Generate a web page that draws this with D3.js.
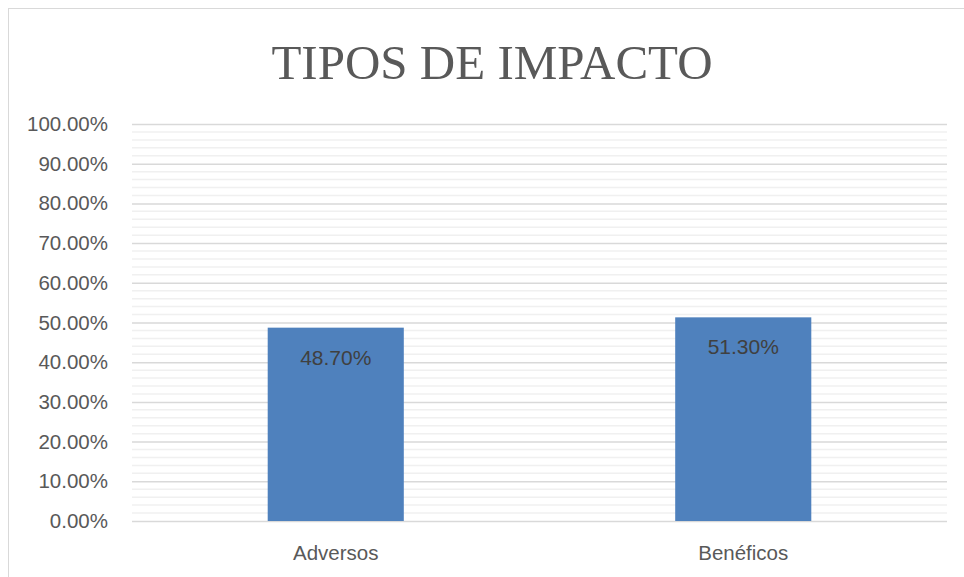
<!DOCTYPE html>
<html>
<head>
<meta charset="utf-8">
<script src="https://cdn.jsdelivr.net/npm/d3@7"></script>
<style>
  body { margin: 0; background: #fff; }
  svg { display: block; }
</style>
</head>
<body>
<svg width="964" height="577"></svg>
<script>
// chart data
const categories = ["Adversos", "Benéficos"];
const values = [0.487, 0.513];
const labels = ["48.70%", "51.30%"];
const majorTicks = [0, 0.1, 0.2, 0.3, 0.4, 0.5, 0.6, 0.7, 0.8, 0.9, 1.0];
const chartTitle = "TIPOS DE IMPACTO";

const svg = d3.select("svg");
const margin = { top: 124, right: 17, bottom: 56, left: 132 };
const width = 964 - margin.left - margin.right;
const height = 577 - margin.top - margin.bottom;

// chart frame (right and bottom edges run off the picture)
svg.append("rect")
    .attr("x", 8.5).attr("y", 8.5)
    .attr("width", 1000).attr("height", 1000)
    .attr("fill", "none")
    .attr("stroke", "#d9d9d9")
    .attr("stroke-width", 1);

svg.append("text")
    .attr("x", 492)
    .attr("y", 79)
    .attr("text-anchor", "middle")
    .style("font-family", "'Liberation Serif', 'DejaVu Serif', serif")
    .style("font-size", "49px")
    .style("fill", "#595959")
    .text(chartTitle);

const g = svg.append("g").attr("transform", `translate(${margin.left},${margin.top})`);

const y = d3.scaleLinear().domain([0, 1]).range([height, 0]);
const x = d3.scaleBand()
    .domain(categories)
    .range([0, width])
    .paddingInner(0.666)
    .paddingOuter(0.333);

// minor gridlines every 2%
const minor = d3.range(0, 101, 2).filter(d => d % 10 !== 0).map(d => d / 100);
g.selectAll(".minor").data(minor).enter().append("line")
    .attr("class", "minor")
    .attr("x1", 0).attr("x2", width)
    .attr("y1", d => y(d)).attr("y2", d => y(d))
    .attr("stroke", "#f0f0f0")
    .attr("stroke-width", 1.5);

// major gridlines + tick labels
const yAxis = g.append("g")
    .call(d3.axisLeft(y).tickValues(majorTicks).tickSize(-width).tickPadding(24)
        .tickFormat(d => (d * 100).toFixed(2) + "%"));
yAxis.select(".domain").remove();
yAxis.selectAll(".tick line").attr("stroke", "#d9d9d9").attr("stroke-width", 1.5);
yAxis.selectAll(".tick text")
    .style("font-family", "'Liberation Sans', Arial, sans-serif")
    .style("font-size", "20.5px")
    .style("fill", "#595959");

// bars
g.selectAll(".bar").data(values).enter().append("rect")
    .attr("class", "bar")
    .attr("x", (d, i) => x(categories[i]))
    .attr("y", d => y(d))
    .attr("width", x.bandwidth())
    .attr("height", d => height - y(d))
    .attr("fill", "#4f81bd");

// value labels inside the bars
g.selectAll(".val").data(values).enter().append("text")
    .attr("class", "val")
    .attr("x", (d, i) => x(categories[i]) + x.bandwidth() / 2)
    .attr("y", d => y(d) + 37)
    .attr("text-anchor", "middle")
    .style("font-family", "'Liberation Sans', Arial, sans-serif")
    .style("font-size", "21px")
    .style("fill", "#404040")
    .text((d, i) => labels[i]);

// category axis
const xAxis = g.append("g")
    .attr("transform", `translate(0,${height})`)
    .call(d3.axisBottom(x).tickSize(0).tickPadding(24));
xAxis.select(".domain").remove();
xAxis.selectAll(".tick text")
    .style("font-family", "'Liberation Sans', Arial, sans-serif")
    .style("font-size", "20.5px")
    .style("fill", "#595959");
</script>
</body>
</html>
